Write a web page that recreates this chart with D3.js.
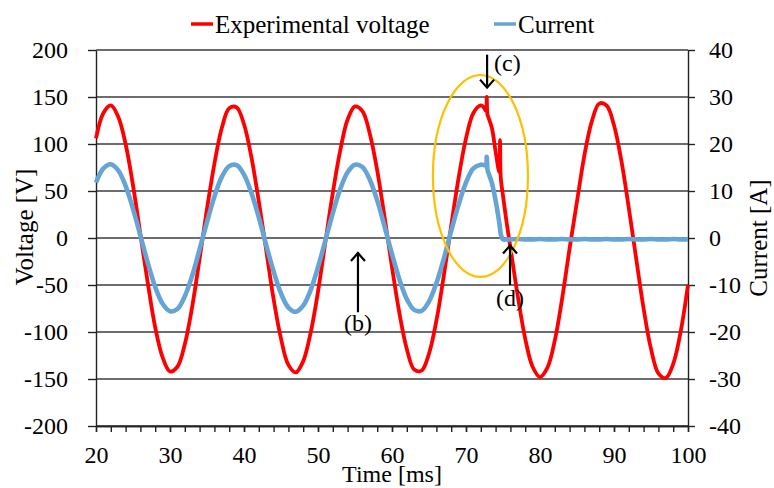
<!DOCTYPE html>
<html>
<head>
<meta charset="utf-8">
<script src="https://cdn.jsdelivr.net/npm/d3@7"></script>
<style>
  body { margin: 0; background: #fff; }
  svg text { font-family: "Liberation Serif", "Times New Roman", serif; fill: #000; }
</style>
</head>
<body>
<svg id="chart" width="774" height="488"></svg>
<script>
// time [ms] of each sample (denser around the interruption)
const times = [
  20,21,22,23,24,25,26,27,28,29,
  30,31,32,33,34,35,36,37,38,39,
  40,41,42,43,44,45,46,47,48,49,
  50,51,52,53,54,55,56,57,58,59,
  60,61,62,63,64,65,66,67,68,69,
  70,71,72,
  72.4,72.7,72.8,72.9,73,73.5,74,74.5,74.6,74.7,75,75.5,
  76,77,78,79,80,81,82,83,84,85,
  86,87,88,89,90,91,92,93,94,95,
  96,97,98,99,100
];

// experimental voltage [V]
const voltage = [
  106,133,141,129,100,56,4,-48,-95,-127,
  -142,-137,-113,-73,-22,31,79,117,138,139,
  121,86,39,-13,-65,-107,-135,-143,-131,-101,
  -57,-4,48,93,126,140,135,111,72,22,
  -31,-80,-118,-140,-141,-123,-88,-40,13,64,
  106,133,141,
  139,135,150,131,129,117,92,70,104,64,45,16,
  -10,-62,-107,-137,-148,-138,-109,-64,-11,39,
  88,124,143,141,120,82,32,-22,-75,-118,
  -144,-149,-134,-100,-50
];

// current [A]
const current = [
  11.8,14.8,15.7,14.4,11.1,6.2,0.5,-5.3,-10.4,-14.0,
  -15.6,-15.1,-12.4,-8.0,-2.4,3.4,8.8,13.0,15.3,15.5,
  13.5,9.6,4.4,-1.5,-7.1,-11.8,-14.8,-15.7,-14.4,-11.1,
  -6.2,-0.5,5.3,10.4,14.0,15.6,15.1,12.4,8.0,2.4,
  -3.4,-8.8,-13.0,-15.3,-15.5,-13.5,-9.6,-4.4,1.5,7.1,
  11.8,14.8,15.6,
  15.5,15.6,17.3,14.6,14.0,11.7,8.0,3.2,2.0,0.8,-0.3,-0.3,
  -0.3,-0.2,-0.3,-0.3,-0.2,-0.3,-0.3,-0.2,-0.3,-0.3,
  -0.2,-0.3,-0.3,-0.2,-0.3,-0.3,-0.2,-0.3,-0.3,-0.2,
  -0.3,-0.3,-0.2,-0.3,-0.3
];

const voltTicks = [-200,-150,-100,-50,0,50,100,150,200];
const currTicks = [-40,-30,-20,-10,0,10,20,30,40];
const timeTicks = [20,30,40,50,60,70,80,90,100];
const timeMinor = [20,22,24,26,28,30,32,34,36,38,40,42,44,46,48,50,52,54,56,58,
                   60,62,64,66,68,70,72,74,76,78,80,82,84,86,88,90,92,94,96,98,100];
const seriesNames = ["Experimental voltage", "Current"];

// annotation arrows: time, arrow tail / tip voltage, label position
const notes = [
  { label: "(c)", t: 72.85, from: 195, to: 160, lt: 73.8, lv: 178, anchor: "start" },
  { label: "(d)", t: 75.95, from: -50, to: -8, lt: 75.95, lv: -72, anchor: "middle" },
  { label: "(b)", t: 55.4, from: -79, to: -16, lt: 55.4, lv: -99, anchor: "middle" }
];
// circled region: centre (t, V) and half sizes (ms, V)
const region = { t: 71.95, v: 66, dt: 6.42, dv: 107.4 };

const FONT = "'Liberation Serif','Times New Roman',serif";
const svg = d3.select("#chart");

const x = d3.scaleLinear().domain([20, 100]).range([96, 688]);
const yV = d3.scaleLinear().domain([-200, 200]).range([426, 50]);
const yI = d3.scaleLinear().domain([-40, 40]).range([426, 50]);

// gridlines
svg.append("g").selectAll("line").data(voltTicks).join("line")
  .attr("x1", x(20)).attr("x2", x(100))
  .attr("y1", d => yV(d)).attr("y2", d => yV(d))
  .attr("stroke", "#3c3c3c").attr("stroke-width", 1.4);

const plain = d => String(d);

// left axis
svg.append("g").attr("transform", "translate(" + x(20) + ",0)")
  .call(d3.axisLeft(yV).tickValues(voltTicks).tickFormat(plain)
    .tickSize(8).tickSizeOuter(0).tickPadding(20));
// right axis
svg.append("g").attr("transform", "translate(" + x(100) + ",0)")
  .call(d3.axisRight(yI).tickValues(currTicks).tickFormat(plain)
    .tickSize(7).tickSizeOuter(0).tickPadding(14));
// bottom axis, minor ticks then labelled ticks
svg.append("g").attr("transform", "translate(0," + yV(-200) + ")")
  .call(d3.axisBottom(x).tickValues(timeMinor).tickSize(6).tickSizeOuter(0).tickFormat(""));
svg.append("g").attr("transform", "translate(0," + yV(-200) + ")")
  .call(d3.axisBottom(x).tickValues(timeTicks).tickFormat(plain)
    .tickSize(6).tickSizeOuter(0).tickPadding(14));

svg.selectAll(".domain, .tick line").attr("stroke", "#222").attr("stroke-width", 1.4);
svg.selectAll("g").filter(function () { return this.getAttribute("font-family"); })
  .attr("font-family", FONT).attr("font-size", 24);
svg.selectAll(".tick text").attr("fill", "#000").style("font-family", FONT);

// series
const pts = times.map((t, i) => ({ t: t, v: voltage[i], c: current[i] }));
const curve = d3.curveCatmullRom.alpha(0.5);
const lineV = d3.line().x(d => x(d.t)).y(d => yV(d.v)).curve(curve);
const lineI = d3.line().x(d => x(d.t)).y(d => yI(d.c)).curve(curve);

svg.append("path").datum(pts).attr("d", lineV)
  .attr("fill", "none").attr("stroke", "#ff0000").attr("stroke-width", 3.8)
  .attr("stroke-linejoin", "round");
svg.append("path").datum(pts).attr("d", lineI)
  .attr("fill", "none").attr("stroke", "#67a4d6").attr("stroke-width", 4.6)
  .attr("stroke-linejoin", "round");

// circled region
svg.append("ellipse")
  .attr("cx", x(region.t)).attr("cy", yV(region.v))
  .attr("rx", x(region.t + region.dt) - x(region.t))
  .attr("ry", yV(region.v - region.dv) - yV(region.v))
  .attr("fill", "none").attr("stroke", "#ffc000").attr("stroke-width", 2.2);

// arrows
const ann = svg.append("g");
notes.forEach(n => {
  const px = x(n.t), y0 = yV(n.from), y1 = yV(n.to);
  const dir = y1 > y0 ? -1 : 1;
  ann.append("line").attr("x1", px).attr("x2", px).attr("y1", y0).attr("y2", y1)
    .attr("stroke", "#000").attr("stroke-width", 2.2);
  ann.append("path")
    .attr("d", "M" + (px - 7) + "," + (y1 + dir * 8) + "L" + px + "," + y1 + "L" + (px + 7) + "," + (y1 + dir * 8))
    .attr("fill", "none").attr("stroke", "#000").attr("stroke-width", 2.2);
  ann.append("text").attr("x", x(n.lt)).attr("y", yV(n.lv))
    .attr("text-anchor", n.anchor).attr("font-size", 24).text(n.label);
});

// axis titles
svg.append("text").attr("transform", "translate(33,227) rotate(-90)")
  .attr("text-anchor", "middle").attr("font-size", 25).text("Voltage [V]");
svg.append("text").attr("transform", "translate(767,238) rotate(-90)")
  .attr("text-anchor", "middle").attr("font-size", 25).text("Current [A]");
svg.append("text").attr("x", 392).attr("y", 482)
  .attr("text-anchor", "middle").attr("font-size", 24).text("Time [ms]");

// legend
const legColors = ["#ff0000", "#67a4d6"];
const legX = [191, 494];
const leg = svg.append("g");
seriesNames.forEach((name, i) => {
  leg.append("line").attr("x1", legX[i]).attr("x2", legX[i] + 22).attr("y1", 24).attr("y2", 24)
    .attr("stroke", legColors[i]).attr("stroke-width", 3.5);
  leg.append("text").attr("x", legX[i] + 24).attr("y", 33).attr("font-size", 25).text(name);
});
</script>
</body>
</html>
